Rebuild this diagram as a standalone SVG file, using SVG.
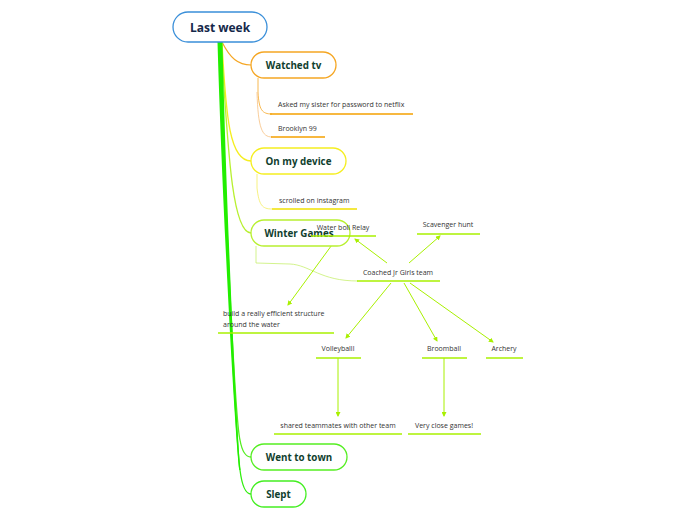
<svg xmlns="http://www.w3.org/2000/svg" width="696" height="520" viewBox="0 0 696 520">
<defs>
<marker id="ah" viewBox="0 0 10 10" refX="8" refY="5" markerWidth="5" markerHeight="5" orient="auto-start-reverse">
<path d="M0,0 L10,5 L0,10 z" fill="#a8f000"/>
</marker>
<style>
.node{fill:#ffffff;stroke-width:1.3}
.t{font-family:"Open Sans","Noto Sans",sans-serif;font-weight:bold;font-size:9.8px;fill:#10402e;text-anchor:middle}
.s{font-family:"Open Sans","Noto Sans",sans-serif;font-size:7px;fill:#333333}
.c{fill:none}
.arr{fill:none;stroke:#a8f000;stroke-width:1;marker-end:url(#ah)}
.ul{stroke-width:1.6}
</style>
</defs>
<rect width="696" height="520" fill="#ffffff"/>
<g id="connectors">
<path class="c" d="M222,42 C230,58 238,65 251,65" stroke="#f5a623" stroke-width="1.2"/>
<path class="c" d="M222,42 C226,120 230,161 251,161" stroke="#f5ee20" stroke-width="1.3"/>
<path class="c" d="M221,42 C228,150 232,233 251,233" stroke="#b8f030" stroke-width="1.3"/>
<path class="c" d="M220,42 C225,200 235,420 240,440 Q243,457 251,457" stroke="#55ee22" stroke-width="1.3"/>
<path class="c" d="M219,42 C224,200 236,440 240,470 Q243,494 251,494" stroke="#33ee11" stroke-width="1.3"/>
<path d="M217.5,42 C222,200 234,420 239.3,470 L240.5,470 C236,420 226,200 222.5,42 Z" fill="#22ee00"/>
<path class="c" d="M258,78 L258,92 C259,110 262,114 272,114" stroke="#f5a623" stroke-width="0.8"/>
<path class="c" d="M257,92 C258,128 262,137 272,137" stroke="#f8c080" stroke-width="0.8"/>
<path class="c" d="M257,174 L257,188 C259,205 262,209 272,209" stroke="#f5ee60" stroke-width="0.8"/>
<path class="c" d="M256,246 L256,263 L290,264 C310,265 320,281 358,281" stroke="#c8f070" stroke-width="0.8"/>
<path class="arr" d="M387,263 L355,239"/>
<path class="arr" d="M409,263 L440,236"/>
<path class="arr" d="M337,238 L288,305"/>
<path class="arr" d="M391,283 L346,338"/>
<path class="arr" d="M404,283 L437,341"/>
<path class="arr" d="M410,283 L493,342"/>
<path class="arr" d="M338,358 L338,416"/>
<path class="arr" d="M444,358 L444,416"/>
</g>
<g id="root">
<rect class="node" x="173" y="12" width="94" height="30" rx="15" stroke="#3a8fd9"/>
<text x="220" y="32" font-family="Open Sans, Noto Sans, sans-serif" font-weight="bold" font-size="12" fill="#14284a" text-anchor="middle">Last week</text>
</g>
<g id="watched">
<rect class="node" x="251" y="52" width="85" height="26" rx="13" stroke="#f5a623"/>
<text class="t" x="293.5" y="68.5">Watched tv</text>
</g>
<g id="asked">
<text class="s" x="278" y="107">Asked my sister for password to netflix</text>
<line class="ul" x1="270" y1="114" x2="413" y2="114" stroke="#f5a000"/>
</g>
<g id="brooklyn">
<text class="s" x="278" y="131">Brooklyn 99</text>
<line class="ul" x1="271" y1="137" x2="325" y2="137" stroke="#f5a000"/>
</g>
<g id="device">
<rect class="node" x="251" y="148" width="95" height="26" rx="13" stroke="#f5ee20"/>
<text class="t" x="298.5" y="164.5">On my device</text>
</g>
<g id="scrolled">
<text class="s" x="279" y="203">scrolled on instagram</text>
<line class="ul" x1="272" y1="209" x2="357" y2="209" stroke="#f0e000"/>
</g>
<g id="winter">
<rect class="node" x="251" y="220" width="99" height="26" rx="13" stroke="#b8f030"/>
<text class="t" x="299" y="237">Winter Games</text>
</g>
<g id="coached">
<text class="s" x="398" y="275" text-anchor="middle">Coached Jr Girls team</text>
<line class="ul" x1="357" y1="281" x2="440" y2="281" stroke="#a8f000"/>
</g>
<g id="water">
<text class="s" x="343" y="229.5" text-anchor="middle">Water boll Relay</text>
<line class="ul" x1="311" y1="236" x2="376" y2="236" stroke="#a8f000"/>
</g>
<g id="scavenger">
<text class="s" x="448" y="227" text-anchor="middle">Scavenger hunt</text>
<line class="ul" x1="417" y1="234" x2="480" y2="234" stroke="#a8f000"/>
</g>
<g id="build">
<text class="s" x="223" y="316">build a really efficient structure</text>
<text class="s" x="223" y="327">around the water</text>
<line class="ul" x1="218" y1="333" x2="334" y2="333" stroke="#a8f000"/>
</g>
<g id="volley">
<text class="s" x="338" y="351" text-anchor="middle">Volleyballl</text>
<line class="ul" x1="316" y1="358" x2="361" y2="358" stroke="#a8f000"/>
</g>
<g id="broom">
<text class="s" x="444" y="351" text-anchor="middle">Broomball</text>
<line class="ul" x1="422" y1="358" x2="467" y2="358" stroke="#a8f000"/>
</g>
<g id="archery">
<text class="s" x="504" y="351" text-anchor="middle">Archery</text>
<line class="ul" x1="486" y1="358" x2="523" y2="358" stroke="#a8f000"/>
</g>
<g id="shared">
<text class="s" x="338" y="428" text-anchor="middle">shared teammates with other team</text>
<line class="ul" x1="274" y1="434" x2="402" y2="434" stroke="#a8f000"/>
</g>
<g id="close">
<text class="s" x="444" y="428" text-anchor="middle">Very close games!</text>
<line class="ul" x1="408" y1="434" x2="481" y2="434" stroke="#a8f000"/>
</g>
<g id="town">
<rect class="node" x="251" y="444" width="96" height="26" rx="13" stroke="#55ee22"/>
<text class="t" x="299" y="460.5">Went to town</text>
</g>
<g id="slept">
<rect class="node" x="251" y="481" width="55" height="26" rx="13" stroke="#44ee22"/>
<text class="t" x="278.5" y="497.5">Slept</text>
</g>
</svg>
